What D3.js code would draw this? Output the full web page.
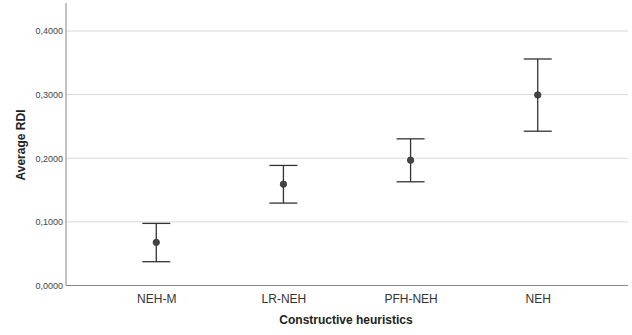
<!DOCTYPE html>
<html>
<head>
<meta charset="utf-8">
<script src="https://cdn.jsdelivr.net/npm/d3@7"></script>
<style>
  body { margin: 0; background: #fff; }
  svg { display: block; font-family: Arial, "Liberation Sans", sans-serif; }
</style>
</head>
<body>
<div class="box"></div>
<script>
// Data
const categories = ["NEH-M", "LR-NEH", "PFH-NEH", "NEH"];
const means = [0.0678, 0.1593, 0.1970, 0.2995];
const lowers = [0.0374, 0.1295, 0.1630, 0.2425];
const uppers = [0.0976, 0.1887, 0.2305, 0.3560];
const yTicks = [0, 0.1, 0.2, 0.3, 0.4];

const dataset = categories.map((c, i) => ({ cat: c, mean: means[i], lo: lowers[i], hi: uppers[i] }));

// svg box
const w = 632;
const h = 335;
const plotLeft = 66, plotRight = 628, plotTop = 3, plotBottom = 285.5;

const xScale = d3.scalePoint()
    .domain(categories)
    .range([plotLeft, plotRight])
    .padding(0.71);

const yScale = d3.scaleLinear()
    .domain([0, 0.444])
    .range([plotBottom, plotTop]);

const svg = d3.select(".box")
    .append("svg")
    .attr("width", w)
    .attr("height", h);

// gridlines
svg.append("g")
    .selectAll("line")
    .data(yTicks.slice(1))
    .enter()
    .append("line")
    .attr("x1", plotLeft)
    .attr("x2", plotRight)
    .attr("y1", d => yScale(d))
    .attr("y2", d => yScale(d))
    .style("stroke", "#d9d9d9")
    .style("stroke-width", 1);

// y axis (no tick marks)
const yAxis = d3.axisLeft(yScale)
    .tickValues(yTicks)
    .tickSize(0)
    .tickPadding(3)
    .tickFormat(d => d3.format(".4f")(d).replace(".", ","));

const gy = svg.append("g")
    .attr("transform", "translate(" + plotLeft + ",0)")
    .call(yAxis);
gy.select(".domain").style("stroke", "#888").attr("d", "M0," + plotTop + "V" + plotBottom);
gy.selectAll("text").style("font-size", "9px").style("fill", "#444");

// x axis
const xAxis = d3.axisBottom(xScale).tickSize(0).tickPadding(9);
const gx = svg.append("g")
    .attr("transform", "translate(0," + plotBottom + ")")
    .call(xAxis);
gx.select(".domain").style("stroke", "#888").attr("d", "M" + plotLeft + ",0H" + plotRight);
gx.selectAll("text").style("font-size", "12px").style("fill", "#333");

// error bars
const capW = 14;
const bars = svg.append("g")
    .selectAll("g")
    .data(dataset)
    .enter()
    .append("g")
    .style("stroke", "#333")
    .style("stroke-width", 1.3);

bars.append("line")
    .attr("x1", d => xScale(d.cat))
    .attr("x2", d => xScale(d.cat))
    .attr("y1", d => yScale(d.lo))
    .attr("y2", d => yScale(d.hi));
bars.append("line")
    .attr("x1", d => xScale(d.cat) - capW)
    .attr("x2", d => xScale(d.cat) + capW)
    .attr("y1", d => yScale(d.hi))
    .attr("y2", d => yScale(d.hi));
bars.append("line")
    .attr("x1", d => xScale(d.cat) - capW)
    .attr("x2", d => xScale(d.cat) + capW)
    .attr("y1", d => yScale(d.lo))
    .attr("y2", d => yScale(d.lo));

svg.append("g")
    .selectAll("circle")
    .data(dataset)
    .enter()
    .append("circle")
    .attr("cx", d => xScale(d.cat))
    .attr("cy", d => yScale(d.mean))
    .attr("r", 3.2)
    .style("fill", "#444")
    .style("stroke", "#333")
    .style("stroke-width", 0.8);

// axis titles
svg.append("text")
    .attr("transform", "rotate(-90)")
    .attr("x", -145)
    .attr("y", 25)
    .attr("text-anchor", "middle")
    .style("font-size", "12px")
    .style("font-weight", "bold")
    .style("fill", "#222")
    .text("Average RDI");

svg.append("text")
    .attr("x", 346)
    .attr("y", 324)
    .attr("text-anchor", "middle")
    .style("font-size", "12px")
    .style("font-weight", "bold")
    .style("fill", "#222")
    .text("Constructive heuristics");
</script>
</body>
</html>
